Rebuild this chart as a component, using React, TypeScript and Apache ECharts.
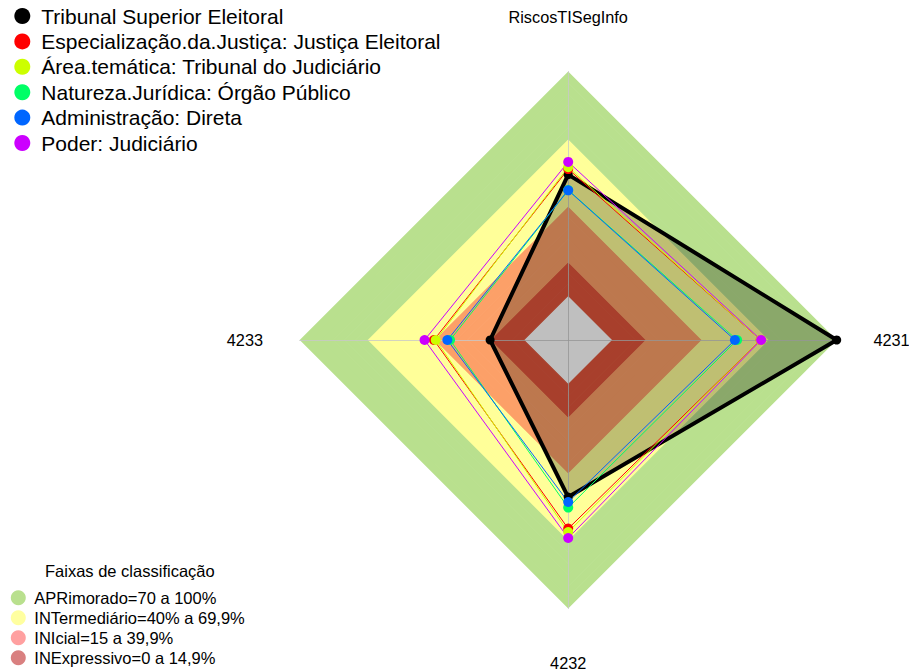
import React, { useEffect, useRef } from "react";
import * as echarts from "echarts";

// ---- data ----
const indicatorNames = ["RiscosTISegInfo", "4233", "4232", "4231"];
const axisMin = -20;
const axisMax = 100;
const axisStep = 5;

const seriesNames = [
  "Tribunal Superior Eleitoral",
  "Especialização.da.Justiça: Justiça Eleitoral",
  "Área.temática: Tribunal do Judiciário",
  "Natureza.Jurídica: Órgão Público",
  "Administração: Direta",
  "Poder: Judiciário",
];
const seriesColors = ["#000000", "#FF0000", "#CCFF00", "#00FF66", "#0066FF", "#CC00FF"];

const tribunal = [53.9, 14.9, 50.2, 100];
const especializacao = [56.4, 40.0, 64.3, 66.0];
const areaTematica = [57.2, 39.2, 65.8, 66.0];
const natureza = [47.0, 32.8, 54.9, 55.5];
const administracao = [46.9, 34.0, 52.4, 54.5];
const poder = [59.6, 44.2, 68.5, 66.2];
const seriesValues = [tribunal, especializacao, areaTematica, natureza, administracao, poder];

// bands (lower edges) and colours
const bandLower = [70, 40, 15, 0];
const bandFill = ["#B9E08E", "#FFFF99", "#FCA068", "#E0553B"];
const bandLegendNames = [
  "APRimorado=70 a 100%",
  "INTermediário=40% a 69,9%",
  "INIcial=15 a 39,9%",
  "INExpressivo=0 a 14,9%",
];
const bandLegendColors = ["#B9E08E", "#FFFFA0", "#FFA0A0", "#D98080"];
const bandLegendTitle = "Faixas de classificação";

const FONT = "'Liberation Sans', Arial, sans-serif";

function bandColorFor(lowerValue: number): string {
  for (let i = 0; i < bandLower.length; i++) {
    if (lowerValue >= bandLower[i]) return bandFill[i];
  }
  return "#FFFFFF";
}

export default function App() {
  const ref = useRef<HTMLDivElement>(null);
  useEffect(() => {
    document.body.style.margin = "0";
    if (!ref.current) return;
    const chart = echarts.init(ref.current, undefined, { renderer: "svg" });

    const splitNumber = (axisMax - axisMin) / axisStep;
    // ring i spans [min + step*i, min + step*(i+1)]
    const areaColors: string[] = [];
    for (let i = 0; i < splitNumber; i++) {
      areaColors.push(bandColorFor(axisMin + axisStep * i));
    }
    // split line at tick i takes the colour of ring i (hides seams)
    const lineColors: string[] = [];
    for (let i = 0; i <= splitNumber; i++) {
      lineColors.push(i < splitNumber ? areaColors[i] : "rgba(0,0,0,0)");
    }

    const indicators = indicatorNames.map((n) => ({ name: n, min: axisMin, max: axisMax }));
    const center = [568.2, 340];
    const radius = 268.5;

    const series: any[] = seriesNames.map((name, i) => {
      const isMain = i === 0;
      return {
        type: "radar",
        name,
        radarIndex: 0,
        z: 4,
        symbol: "circle",
        symbolSize: isMain ? 9 : 10,
        itemStyle: { color: seriesColors[i] },
        lineStyle: { color: seriesColors[i], width: isMain ? 4 : 1 },
        areaStyle: isMain ? { color: "#000000", opacity: 0.25 } : undefined,
        data: [
          {
            name,
            value: seriesValues[i],
            itemStyle: { color: seriesColors[i] },
          },
        ],
      };
    });

    const graphicEls: any[] = [
      {
        type: "text",
        x: 45,
        y: 571,
        style: {
          text: bandLegendTitle,
          fontSize: 16.5,
          fontFamily: FONT,
          fill: "#000",
          verticalAlign: "middle",
          textVerticalAlign: "middle",
        },
      },
    ];
    bandLegendNames.forEach((n, i) => {
      const cy = 597.7 + 20 * i;
      graphicEls.push({
        type: "circle",
        shape: { cx: 18.3, cy, r: 7.5 },
        style: { fill: bandLegendColors[i] },
      });
      graphicEls.push({
        type: "text",
        x: 34.3,
        y: cy,
        style: {
          text: n,
          fontSize: 16.5,
          fontFamily: FONT,
          fill: "#000",
          verticalAlign: "middle",
          textVerticalAlign: "middle",
        },
      });
    });

    chart.setOption({
      animation: false,
      textStyle: { fontFamily: FONT },
      legend: {
        orient: "vertical",
        left: 9.3,
        top: 0.5,
        icon: "circle",
        itemWidth: 28,
        itemHeight: 16,
        itemGap: 4.4,
        selectedMode: false,
        textStyle: { fontSize: 21, lineHeight: 21, color: "#000", fontFamily: FONT },
        data: seriesNames,
      },
      radar: [
        {
          z: 1,
          center,
          radius,
          shape: "polygon",
          startAngle: 90,
          splitNumber,
          indicator: indicators,
          nameGap: 36.7,
          axisName: {
            color: "#000",
            fontSize: 16.3,
            fontFamily: FONT,
            padding: [10, 0, 10, 0],
          },
          axisLine: { show: false },
          axisTick: { show: false },
          axisLabel: { show: false },
          splitLine: { show: true, lineStyle: { color: lineColors, width: 1.2 } },
          splitArea: { show: true, areaStyle: { color: areaColors, opacity: 1 } },
        },
        {
          z: 2,
          center,
          radius,
          shape: "polygon",
          startAngle: 90,
          splitNumber,
          indicator: indicators.map((d) => ({ ...d, name: "" })),
          axisName: { show: false },
          axisLine: { show: true, lineStyle: { color: "#C8C8C8", width: 1, opacity: 0.8 } },
          axisTick: { show: false },
          axisLabel: { show: false },
          splitLine: { show: false },
          splitArea: { show: false },
        },
      ],
      graphic: graphicEls,
      series,
    });
    return () => chart.dispose();
  }, []);
  return <div ref={ref} style={{ width: 909, height: 672 }} />;
}
